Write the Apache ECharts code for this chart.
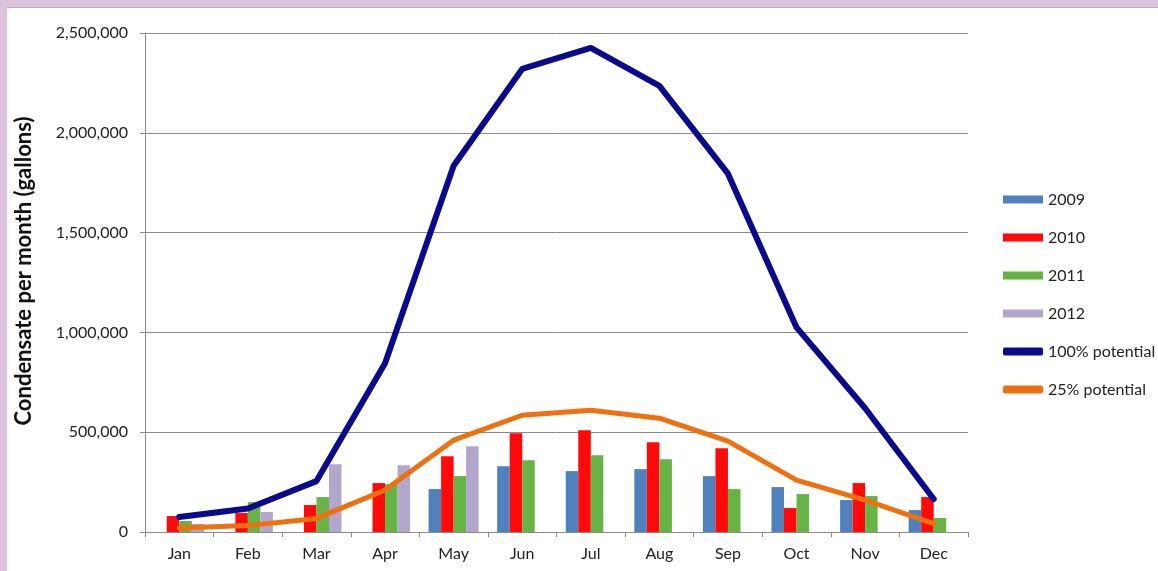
<!DOCTYPE html>
<html>
<head>
<meta charset="utf-8">
<script src="https://cdn.jsdelivr.net/npm/echarts@6/dist/echarts.min.js"></script>
<style>
  html, body { margin: 0; padding: 0; width: 1158px; height: 571px; background: #dcc5dc; overflow: hidden; }
  #chart { position: absolute; left: 7px; top: 7px; width: 1151px; height: 564px; background: #ffffff; border-top: 1px solid #b9adb9; box-sizing: border-box; }
</style>
</head>
<body>
<div id="chart"></div>
<script>
const months = ['Jan','Feb','Mar','Apr','May','Jun','Jul','Aug','Sep','Oct','Nov','Dec'];
const y2009 = [null, null, null, null, 215000, 330000, 305000, 315000, 280000, 225000, 160000, 110000];
const y2010 = [80000, 95000, 135000, 245000, 380000, 495000, 510000, 450000, 420000, 120000, 245000, 175000];
const y2011 = [55000, 150000, 175000, 240000, 280000, 360000, 385000, 365000, 215000, 190000, 180000, 70000];
const y2012 = [40000, 100000, 340000, 335000, 430000, null, null, null, null, null, null, null];
const potential100 = [75000, 118000, 255000, 845000, 1835000, 2320000, 2425000, 2235000, 1795000, 1025000, 620000, 165000];
const potential25 = [20000, 32000, 68000, 210000, 460000, 585000, 610000, 570000, 455000, 260000, 160000, 42000];
const yTicks = [0, 500000, 1000000, 1500000, 2000000, 2500000];
const yTitle = 'Condensate per month (gallons)';

const font = 'Lato, "Open Sans", "DejaVu Sans", sans-serif';
const chart = echarts.init(document.getElementById('chart'), null, { renderer: 'canvas' });

const barSeries = (name, data, color) => ({
  name, type: 'bar', data, barGap: '0%', barCategoryGap: '27%',
  itemStyle: { color }, z: 2
});

chart.setOption({
  animation: false,
  backgroundColor: '#ffffff',
  textStyle: { fontFamily: font },
  grid: { left: 138, top: 25, right: 190, bottom: 39, containLabel: false },
  graphic: [{
    type: 'text', x: 17, y: 263, rotation: Math.PI / 2,
    style: { text: yTitle, font: 'bold 22px ' + font, fill: '#111', align: 'center', verticalAlign: 'middle' }
  }],
  legend: {
    orient: 'vertical', left: 991, top: 178,
    itemWidth: 40, itemHeight: 8, itemGap: 21,
    textStyle: { fontSize: 16, color: '#222', fontFamily: font, lineHeight: 17 },
    data: [
      { name: '2009', icon: 'rect' },
      { name: '2010', icon: 'rect' },
      { name: '2011', icon: 'rect' },
      { name: '2012', icon: 'rect' },
      { name: '100% potential', icon: 'roundRect' },
      { name: '25% potential', icon: 'roundRect' }
    ]
  },
  xAxis: {
    type: 'category', data: months, boundaryGap: true,
    axisLine: { lineStyle: { color: '#8a8a8a', width: 1 } },
    axisTick: { show: true, length: 5, lineStyle: { color: '#8a8a8a' } },
    axisLabel: { fontSize: 16, color: '#222', margin: 14, fontFamily: font }
  },
  yAxis: {
    type: 'value', min: 0, max: 2500000, interval: 500000,
    axisLine: { show: true, lineStyle: { color: '#8a8a8a', width: 1 } },
    axisTick: { show: true, length: 5, lineStyle: { color: '#8a8a8a' } },
    splitLine: { lineStyle: { color: '#8a8a8a', width: 1 } },
    axisLabel: {
      fontSize: 16, color: '#222', margin: 17, fontFamily: font,
      formatter: v => yTicks.includes(v) ? v.toLocaleString('en-US') : ''
    }
  },
  series: [
    barSeries('2009', y2009, '#4f81bd'),
    barSeries('2010', y2010, '#ff0a0a'),
    barSeries('2011', y2011, '#68b346'),
    barSeries('2012', y2012, '#b2a6cc'),
    { name: '100% potential', type: 'line', data: potential100, symbol: 'none',
      lineStyle: { color: '#0a0a8c', width: 6, cap: 'round', join: 'round' }, itemStyle: { color: '#0a0a8c' }, z: 4 },
    { name: '25% potential', type: 'line', data: potential25, symbol: 'none',
      lineStyle: { color: '#f0700f', width: 5, cap: 'round', join: 'round' }, itemStyle: { color: '#f0700f' }, z: 5 }
  ]
});
</script>
</body>
</html>
